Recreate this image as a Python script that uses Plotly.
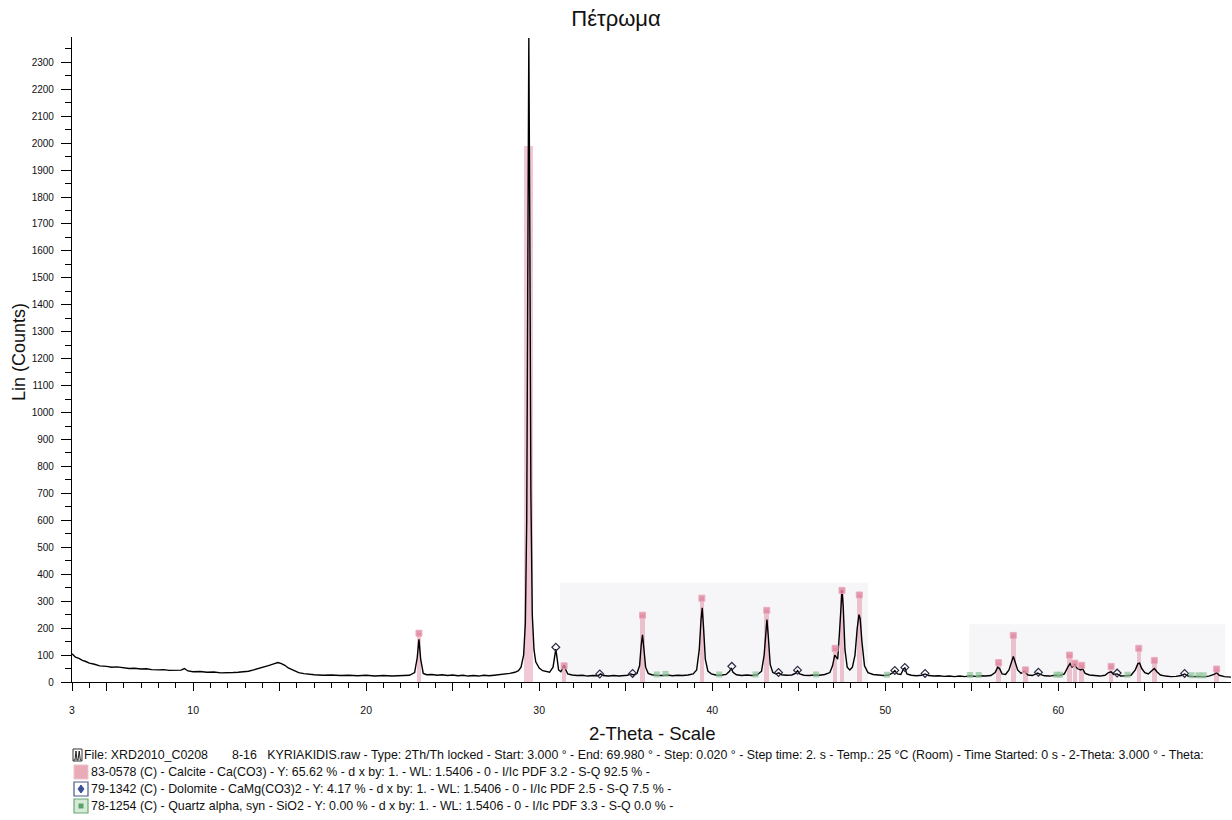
import plotly.graph_objects as go

# ---------------- data ----------------
two_theta = [
    3.0, 3.2, 3.4, 3.6, 3.8, 4.0, 4.3, 4.6, 5.0, 5.3, 5.6, 6.0, 6.3, 6.6, 7.0, 7.3, 7.6, 8.0, 8.3, 8.6,
    9.0, 9.3, 9.5, 9.7, 10.0, 10.4, 10.8, 11.2, 11.6, 12.0, 12.3, 12.6, 12.9, 13.2, 13.5, 13.8, 14.1, 14.4, 14.7, 14.9,
    15.1, 15.3, 15.5, 15.8, 16.1, 16.4, 16.7, 17.0, 17.5, 18.0, 18.5, 19.0, 19.5, 20.0, 20.5, 21.0, 21.5, 22.0, 22.5, 22.8,
    22.95, 23.05, 23.15, 23.3, 23.5, 23.8, 24.1, 24.4, 24.7, 25.0, 25.3, 25.6, 25.9, 26.2, 26.5, 26.8, 27.1, 27.4, 27.7, 28.0,
    28.3, 28.6, 28.8, 28.95, 29.1, 29.2, 29.28, 29.34, 29.4, 29.46, 29.52, 29.6, 29.7, 29.8, 30.0, 30.2, 30.4, 30.6, 30.8, 30.9,
    30.96, 31.02, 31.12, 31.25, 31.38, 31.44, 31.52, 31.65, 31.9, 32.2, 32.5, 32.8, 33.1, 33.4, 33.55, 33.7, 34.0, 34.3, 34.6, 34.9,
    35.1, 35.3, 35.45, 35.65, 35.8, 35.9, 35.97, 36.04, 36.15, 36.3, 36.5, 36.8, 37.1, 37.4, 37.7, 38.0, 38.3, 38.6, 38.9, 39.1,
    39.25, 39.35, 39.42, 39.5, 39.6, 39.75, 39.95, 40.2, 40.5, 40.8, 41.0, 41.1, 41.2, 41.4, 41.7, 42.0, 42.3, 42.6, 42.85, 43.0,
    43.1, 43.16, 43.24, 43.35, 43.5, 43.7, 43.85, 44.0, 44.3, 44.6, 44.8, 44.93, 45.05, 45.3, 45.6, 45.9, 46.2, 46.5, 46.8, 46.95,
    47.08, 47.15, 47.25, 47.35, 47.45, 47.5, 47.57, 47.67, 47.8, 47.95, 48.1, 48.25, 48.38, 48.48, 48.55, 48.65, 48.8, 49.0, 49.3, 49.6,
    49.9, 50.2, 50.45, 50.55, 50.7, 50.9, 51.05, 51.13, 51.25, 51.5, 51.8, 52.1, 52.3, 52.5, 52.8, 53.1, 53.4, 53.7, 54.0, 54.3,
    54.6, 54.9, 55.2, 55.5, 55.8, 56.1, 56.35, 56.5, 56.6, 56.75, 56.95, 57.15, 57.3, 57.4, 57.5, 57.65, 57.85, 58.0, 58.1, 58.25,
    58.5, 58.8, 58.95, 59.2, 59.5, 59.8, 60.1, 60.35, 60.55, 60.68, 60.8, 60.95, 61.1, 61.3, 61.4, 61.55, 61.8, 62.1, 62.4, 62.7,
    62.9, 63.05, 63.2, 63.4, 63.6, 63.9, 64.2, 64.45, 64.6, 64.7, 64.82, 65.0, 65.2, 65.4, 65.55, 65.7, 65.9, 66.2, 66.5, 66.8,
    67.1, 67.3, 67.5, 67.8, 68.1, 68.4, 68.7, 69.0, 69.15, 69.3, 69.6, 69.98,
]
counts = [
    105, 92, 88, 80, 76, 70, 66, 60, 58, 55, 56, 52, 50, 51, 48, 49, 46, 45, 46, 43,
    42, 44, 50, 41, 38, 39, 36, 37, 34, 33, 35, 36, 38, 40, 45, 50, 55, 62, 68, 72,
    68, 62, 52, 42, 35, 31, 28, 27, 25, 26, 24, 25, 23, 25, 22, 24, 22, 23, 25, 35,
    90, 158, 85, 32, 27, 28, 25, 27, 24, 26, 23, 25, 22, 24, 22, 25, 23, 25, 27, 29,
    32, 36, 42, 55, 100, 220, 600, 1500, 2390, 1650, 700, 250, 120, 75, 52, 42, 38, 36, 55, 100,
    122, 95, 45, 38, 52, 62, 48, 30, 26, 24, 25, 22, 24, 23, 30, 24, 22, 24, 22, 23,
    25, 30, 26, 32, 60, 140, 175, 130, 55, 32, 27, 25, 24, 26, 23, 25, 24, 26, 30, 45,
    120, 230, 275, 200, 85, 40, 30, 26, 25, 28, 40, 52, 36, 27, 24, 26, 24, 27, 40, 100,
    200, 232, 170, 65, 35, 30, 34, 27, 25, 26, 32, 42, 30, 25, 24, 26, 25, 28, 35, 60,
    100, 95, 85, 180, 320, 340, 280, 120, 55, 45, 55, 100, 200, 250, 235, 150, 60, 35, 28, 25,
    24, 26, 35, 42, 30, 28, 48, 52, 30, 25, 23, 25, 30, 24, 22, 23, 21, 22, 20, 22,
    20, 23, 21, 23, 22, 24, 35, 55, 50, 30, 28, 45, 80, 95, 75, 45, 32, 38, 36, 26,
    24, 33, 28, 23, 22, 25, 24, 30, 55, 68, 55, 64, 50, 45, 50, 32, 26, 24, 22, 25,
    35, 38, 28, 30, 22, 23, 25, 45, 68, 70, 50, 35, 30, 42, 50, 38, 26, 22, 20, 21,
    24, 30, 22, 20, 21, 19, 22, 28, 35, 25, 20, 18,
]

# Calcite (83-0578) reference lines
calcite_pos = [23.05, 29.40, 31.44, 35.97, 39.40, 43.15, 47.10, 47.50, 48.50, 56.55, 57.40, 58.10,
               60.65, 60.95, 61.35, 63.05, 64.65, 65.55, 69.15]
calcite_int = [181, 1990, 60, 248, 311, 266, 125, 340, 323, 72, 173, 45,
               100, 70, 62, 58, 125, 80, 48]

# Dolomite (79-1342) markers
dolomite_pos = [30.96, 33.5, 35.4, 41.13, 43.83, 44.93, 50.55, 51.13, 52.3, 58.85, 63.4, 67.3]
dolomite_int = [129, 30, 32, 58, 35, 44, 43, 54, 32, 36, 33, 32]

# Quartz (78-1254) markers
quartz_pos = [36.8, 37.3, 40.4, 42.5, 46.0, 50.1, 54.9, 55.4, 59.9, 60.1, 64.0, 67.7, 68.1, 68.4]
quartz_int = [28, 30, 28, 28, 28, 27, 26, 26, 27, 27, 27, 25, 25, 25]

# shaded zoom areas (start, end, height)
area_start = [31.2, 54.85]
area_end = [49.0, 69.65]
area_top = [368, 214]

y_ticks = list(range(0, 2301, 100))
x_ticks = [3, 5, 10, 15, 20, 25, 30, 35, 40, 45, 50, 55, 60, 65]
x_tick_text = ['3', '', '10', '', '20', '', '30', '', '40', '', '50', '', '60', '']

legend_lines = [
    "File: XRD2010_C0208\u00a0\u00a0\u00a0\u00a0\u00a0\u00a0\u00a08-16\u00a0\u00a0\u00a0KYRIAKIDIS.raw - Type: 2Th/Th locked - Start: 3.000 ° - End: 69.980 ° - Step: 0.020 ° - Step time: 2. s - Temp.: 25 °C (Room) - Time Started: 0 s - 2-Theta: 3.000 ° - Theta:",
    "83-0578 (C) - Calcite - Ca(CO3) - Y: 65.62 % - d x by: 1. - WL: 1.5406 - 0 - I/Ic PDF 3.2 - S-Q 92.5 % -",
    "79-1342 (C) - Dolomite - CaMg(CO3)2 - Y: 4.17 % - d x by: 1. - WL: 1.5406 - 0 - I/Ic PDF 2.5 - S-Q 7.5 % -",
    "78-1254 (C) - Quartz alpha, syn - SiO2 - Y: 0.00 % - d x by: 1. - WL: 1.5406 - 0 - I/Ic PDF 3.3 - S-Q 0.0 % -",
]

# ---------------- layout geometry (pixels) ----------------
W, H = 1232, 820
L, R, T, B = 72, 1231, 37, 682
FONT = "Liberation Sans, Arial, sans-serif"


def px(x):
    return (x - L) / (R - L)


def py(y):
    return (B - y) / (B - T)


fig = go.Figure()

# pink calcite reference bars
bar_w = [0.5 if v > 1000 else 0.26 for v in calcite_int]
bar_c = ['rgba(234,178,194,0.7)' if v > 1000 else 'rgba(226,150,172,0.55)' for v in calcite_int]
fig.add_trace(go.Bar(x=calcite_pos, y=calcite_int, width=bar_w,
                     marker=dict(color=bar_c, line=dict(width=0)), hoverinfo='skip', showlegend=False))

# measured pattern
fig.add_trace(go.Scatter(x=two_theta, y=counts, mode='lines',
                         line=dict(color='black', width=1.4), showlegend=False))

# calcite markers
cm_x = [p for p, v in zip(calcite_pos, calcite_int) if v < 1000]
cm_y = [v for v in calcite_int if v < 1000]
fig.add_trace(go.Scatter(x=cm_x, y=cm_y, mode='markers',
                         marker=dict(symbol='square', size=6, color='rgba(222,130,155,0.8)',
                                     line=dict(color='rgba(235,170,190,0.9)', width=1)),
                         showlegend=False))
# dolomite markers
fig.add_trace(go.Scatter(x=dolomite_pos, y=dolomite_int, mode='markers',
                         marker=dict(symbol='diamond-open', size=6, color='#2a2a45',
                                     line=dict(width=1.2)),
                         showlegend=False))
# quartz markers
fig.add_trace(go.Scatter(x=quartz_pos, y=quartz_int, mode='markers',
                         marker=dict(symbol='square', size=6, color='rgba(140,195,150,0.7)'),
                         showlegend=False))

shapes = []
for s, e, t in zip(area_start, area_end, area_top):
    shapes.append(dict(type='rect', xref='x', yref='y', x0=s, x1=e, y0=0, y1=t,
                       fillcolor='rgba(238,236,242,0.55)', line=dict(width=0), layer='below'))

# legend icons
rows_y = [755, 772, 789, 806]
ix0, ix1 = 74, 88
# row 1: small pattern icon
shapes.append(dict(type='rect', xref='paper', yref='paper', x0=px(73), x1=px(82),
                   y0=py(rows_y[0] + 6), y1=py(rows_y[0] - 6), line=dict(color='#333', width=1)))
pts = [(73.5, 760), (75, 760), (76, 751), (77, 760), (78, 760), (79.2, 751), (80.3, 760), (81.5, 760)]
path = 'M ' + ' L '.join(f'{px(a):.5f},{py(b):.5f}' for a, b in pts)
shapes.append(dict(type='path', xref='paper', yref='paper', path=path, line=dict(color='#222', width=1)))
# row 2: calcite
shapes.append(dict(type='rect', xref='paper', yref='paper', x0=px(ix0), x1=px(ix1),
                   y0=py(rows_y[1] + 7), y1=py(rows_y[1] - 7), fillcolor='rgba(226,150,165,0.8)',
                   line=dict(color='rgba(235,195,205,1)', width=1)))
# row 3: dolomite
shapes.append(dict(type='rect', xref='paper', yref='paper', x0=px(ix0), x1=px(ix1),
                   y0=py(rows_y[2] + 7), y1=py(rows_y[2] - 7), fillcolor='white',
                   line=dict(color='#4a5a8a', width=1.2)))
dm = [(81, 785), (84, 789), (81, 793), (78, 789), (81, 785)]
shapes.append(dict(type='path', xref='paper', yref='paper',
                   path='M ' + ' L '.join(f'{px(a):.5f},{py(b):.5f}' for a, b in dm) + ' Z',
                   fillcolor='#3a4f9a', line=dict(color='#3a4f9a', width=1)))
# row 4: quartz
shapes.append(dict(type='rect', xref='paper', yref='paper', x0=px(ix0), x1=px(ix1),
                   y0=py(rows_y[3] + 7), y1=py(rows_y[3] - 7), fillcolor='rgba(200,230,205,0.8)',
                   line=dict(color='#6aa878', width=1.2)))
shapes.append(dict(type='rect', xref='paper', yref='paper', x0=px(78.5), x1=px(83.5),
                   y0=py(rows_y[3] + 2.5), y1=py(rows_y[3] - 2.5), fillcolor='#5aa06a', line=dict(width=0)))

annotations = []
text_x = [82, 89, 89, 89]
for i, (txt, yy) in enumerate(zip(legend_lines, rows_y)):
    annotations.append(dict(text=txt, xref='paper', yref='paper', x=px(text_x[i]), y=py(yy),
                            xanchor='left', yanchor='middle', showarrow=False,
                            font=dict(family=FONT, size=12.4, color='#111')))
annotations.append(dict(text='2-Theta - Scale', xref='paper', yref='paper', x=px(652), y=py(733),
                        xanchor='center', yanchor='middle', showarrow=False,
                        font=dict(family=FONT, size=18.5, color='#111')))
annotations.append(dict(text='Lin (Counts)', xref='paper', yref='paper', x=px(19), y=py(352),
                        xanchor='center', yanchor='middle', textangle=-90, showarrow=False,
                        font=dict(family=FONT, size=18, color='#111')))

fig.update_layout(
    width=W, height=H,
    margin=dict(l=L, r=W - R, t=T, b=H - B, pad=0),
    paper_bgcolor='white', plot_bgcolor='white',
    title=dict(text='Πέτρωμα', x=0.5, xref='container', xanchor='center',
               y=1 - 18 / H, yref='container', yanchor='middle',
               font=dict(family=FONT, size=22, color='#111')),
    shapes=shapes, annotations=annotations,
    bargap=0, showlegend=False,
    font=dict(family=FONT, color='#111'),
)
fig.update_xaxes(range=[3, 69.98], tickvals=x_ticks, ticktext=x_tick_text,
                 ticks='outside', ticklen=8, tickwidth=1, tickcolor='black',
                 minor=dict(dtick=1, tick0=0, ticks='outside', ticklen=5, tickcolor='black', showgrid=False),
                 showline=True, linecolor='black', linewidth=1.2, showgrid=False, zeroline=False,
                 ticklabelstandoff=10, tickfont=dict(family=FONT, size=10.5, color='#111'))
fig.update_yaxes(range=[0, 2394], tickvals=y_ticks,
                 ticks='outside', ticklen=10, tickwidth=1, tickcolor='black',
                 minor=dict(dtick=50, tick0=0, ticks='outside', ticklen=6, tickcolor='black', showgrid=False),
                 showline=True, linecolor='black', linewidth=1.2, showgrid=False, zeroline=False,
                 ticklabelstandoff=5, tickfont=dict(family=FONT, size=10, color='#111'))

fig.write_html("out.html")
